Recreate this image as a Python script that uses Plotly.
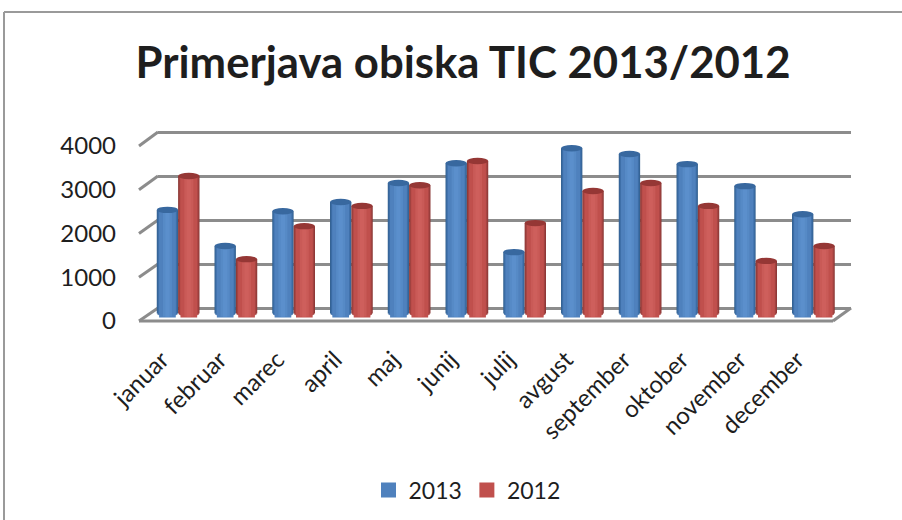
import math
import plotly.graph_objects as go

months = ["januar", "februar", "marec", "april", "maj", "junij", "julij", "avgust",
          "september", "oktober", "november", "december"]
visits_2013 = [2355, 1535, 2325, 2535, 2965, 3415, 1395, 3755, 3625, 3395, 2895, 2255]
visits_2012 = [3125, 1235, 1985, 2445, 2915, 3465, 2055, 2785, 2965, 2445, 1195, 1535]
y_ticks = [0, 1000, 2000, 3000, 4000]
title_text = "Primerjava obiska TIC 2013/2012"

W, H = 902, 520
FONT = "Lato"
INK = "#1e1e1e"
GRID = "#8c8c8c"

def px(v):
    return v / W

def py(v):
    return 1 - v / H

BAR = 0.37
EL_PX = 3.2
UNIT_PX = 0.044
BASE_PX = 313.5
shades_2013 = [(1.0, "#33608f"), (.93, "#3b6ca4"), (.82, "#4577b2"), (.64, "#4f81bd"), (.42, "#568ac6"), (.2, "#5b8fcc")]
shades_2012 = [(1.0, "#8a3533"), (.93, "#a04240"), (.82, "#b34b48"), (.64, "#c0504d"), (.42, "#c95a57"), (.2, "#ce5f5c")]

fig = go.Figure()
xs = list(range(len(months)))

def add_series(name, values, shades, left, legend_shade):
    for h, color in shades:
        depth = EL_PX * math.sqrt(max(0, 1 - h * h)) / UNIT_PX
        w = BAR * h
        center = left + BAR / 2
        is_key = h == legend_shade
        fig.add_trace(go.Bar(
            x=xs, y=[v + depth for v in values], base=[-depth] * len(values),
            width=w, offset=center - w / 2,
            marker=dict(color=color, line=dict(width=3 if is_key else 0, color=color)),
            xaxis="x3", yaxis="y3", name=name,
            showlegend=is_key, hoverinfo="skip",
        ))

add_series("2013", visits_2013, shades_2013, -BAR, .64)
add_series("2012", visits_2012, shades_2012, 0, .64)

shapes = []
ery = EL_PX / UNIT_PX
for i in xs:
    for left, v, col in ((-BAR, visits_2013[i], "#38689f"), (0, visits_2012[i], "#953735")):
        shapes.append(dict(type="circle", xref="x3", yref="y3", layer="above",
                           x0=i + left, x1=i + left + BAR, y0=v - ery, y1=v + ery,
                           fillcolor=col, line=dict(width=0)))

# side wall and floor edges of the 3D frame
for t in y_ticks:
    yb = 308 - t * 0.044
    yf = 321 - t * 0.04375
    shapes.append(dict(type="line", xref="paper", yref="paper", layer="below",
                       x0=px(139), x1=px(158), y0=py(yf), y1=py(yb),
                       line=dict(color=GRID, width=3)))
shapes.append(dict(type="line", xref="paper", yref="paper", layer="below",
                   x0=px(833), x1=px(851), y0=py(321), y1=py(308), line=dict(color=GRID, width=3)))
shapes.append(dict(type="line", xref="paper", yref="paper", layer="below",
                   x0=px(139), x1=px(833), y0=py(321), y1=py(321), line=dict(color=GRID, width=3)))
# chart frame: top and left edges only
shapes.append(dict(type="line", xref="paper", yref="paper", x0=px(4), x1=1, y0=py(12), y1=py(12),
                   line=dict(color="#9a9a9a", width=2)))
shapes.append(dict(type="line", xref="paper", yref="paper", x0=px(4), x1=px(4), y0=py(12), y1=0,
                   line=dict(color="#9a9a9a", width=2)))

fig.update_layout(
    width=W, height=H, margin=dict(l=0, r=0, t=0, b=0, autoexpand=False),
    paper_bgcolor="white", plot_bgcolor="rgba(0,0,0,0)",
    barmode="overlay", shapes=shapes,
    font=dict(family=FONT, color=INK),
    title=dict(text=f"<b>{title_text}</b>", x=px(463), xanchor="center", y=py(63), yanchor="middle",
               font=dict(family=FONT, size=43.7, color=INK)),
    legend=dict(orientation="h", x=px(467), xanchor="center", y=py(490), yanchor="middle",
                font=dict(size=23, color=INK), traceorder="normal", bgcolor="rgba(0,0,0,0)"),
    # label axis
    xaxis=dict(domain=[px(133), px(826)], range=[-0.5, 11.5], tickmode="array", tickvals=xs, ticktext=months,
               tickangle=-45, tickfont=dict(size=24, color=INK), showgrid=False, zeroline=False,
               showline=False, ticks="", anchor="y", ticklabelstandoff=19),
    yaxis=dict(domain=[py(321), py(146)], range=[0, 4000], tickmode="array", tickvals=y_ticks,
               tickfont=dict(size=24, color=INK), showgrid=False, zeroline=False, showline=False,
               ticks="", anchor="x", ticklabelstandoff=16),
    # back wall: gridlines (range padded so the end lines are kept)
    xaxis2=dict(domain=[px(158), px(851)], range=[-0.5, 11.5], visible=False, anchor="y2"),
    yaxis2=dict(domain=[py(308 + 100 * UNIT_PX), py(308 - 4100 * UNIT_PX)], range=[-100, 4100], tickmode="array",
                tickvals=y_ticks, showticklabels=False, showgrid=True, gridcolor=GRID, gridwidth=3,
                zeroline=False, showline=False, ticks="", anchor="x2"),
    # bars, halfway in depth
    xaxis3=dict(domain=[px(149.25), px(842.25)], range=[-0.5, 11.5], visible=False, anchor="y3"),
    yaxis3=dict(domain=[py(BASE_PX + 200 * UNIT_PX), py(BASE_PX - 4000 * UNIT_PX)], range=[-200, 4000],
                visible=False, anchor="x3"),
)
# a hidden trace keeps the label and back-wall axes alive
fig.add_trace(go.Scatter(x=[0], y=[0], xaxis="x", yaxis="y", mode="markers",
                         marker=dict(opacity=0), showlegend=False, hoverinfo="skip"))
fig.add_trace(go.Scatter(x=[0], y=[0], xaxis="x2", yaxis="y2", mode="markers",
                         marker=dict(opacity=0), showlegend=False, hoverinfo="skip"))
fig.write_html("out.html", config={"displayModeBar": False},
               post_script="document.body.style.margin='0';document.body.style.overflow='hidden';")
